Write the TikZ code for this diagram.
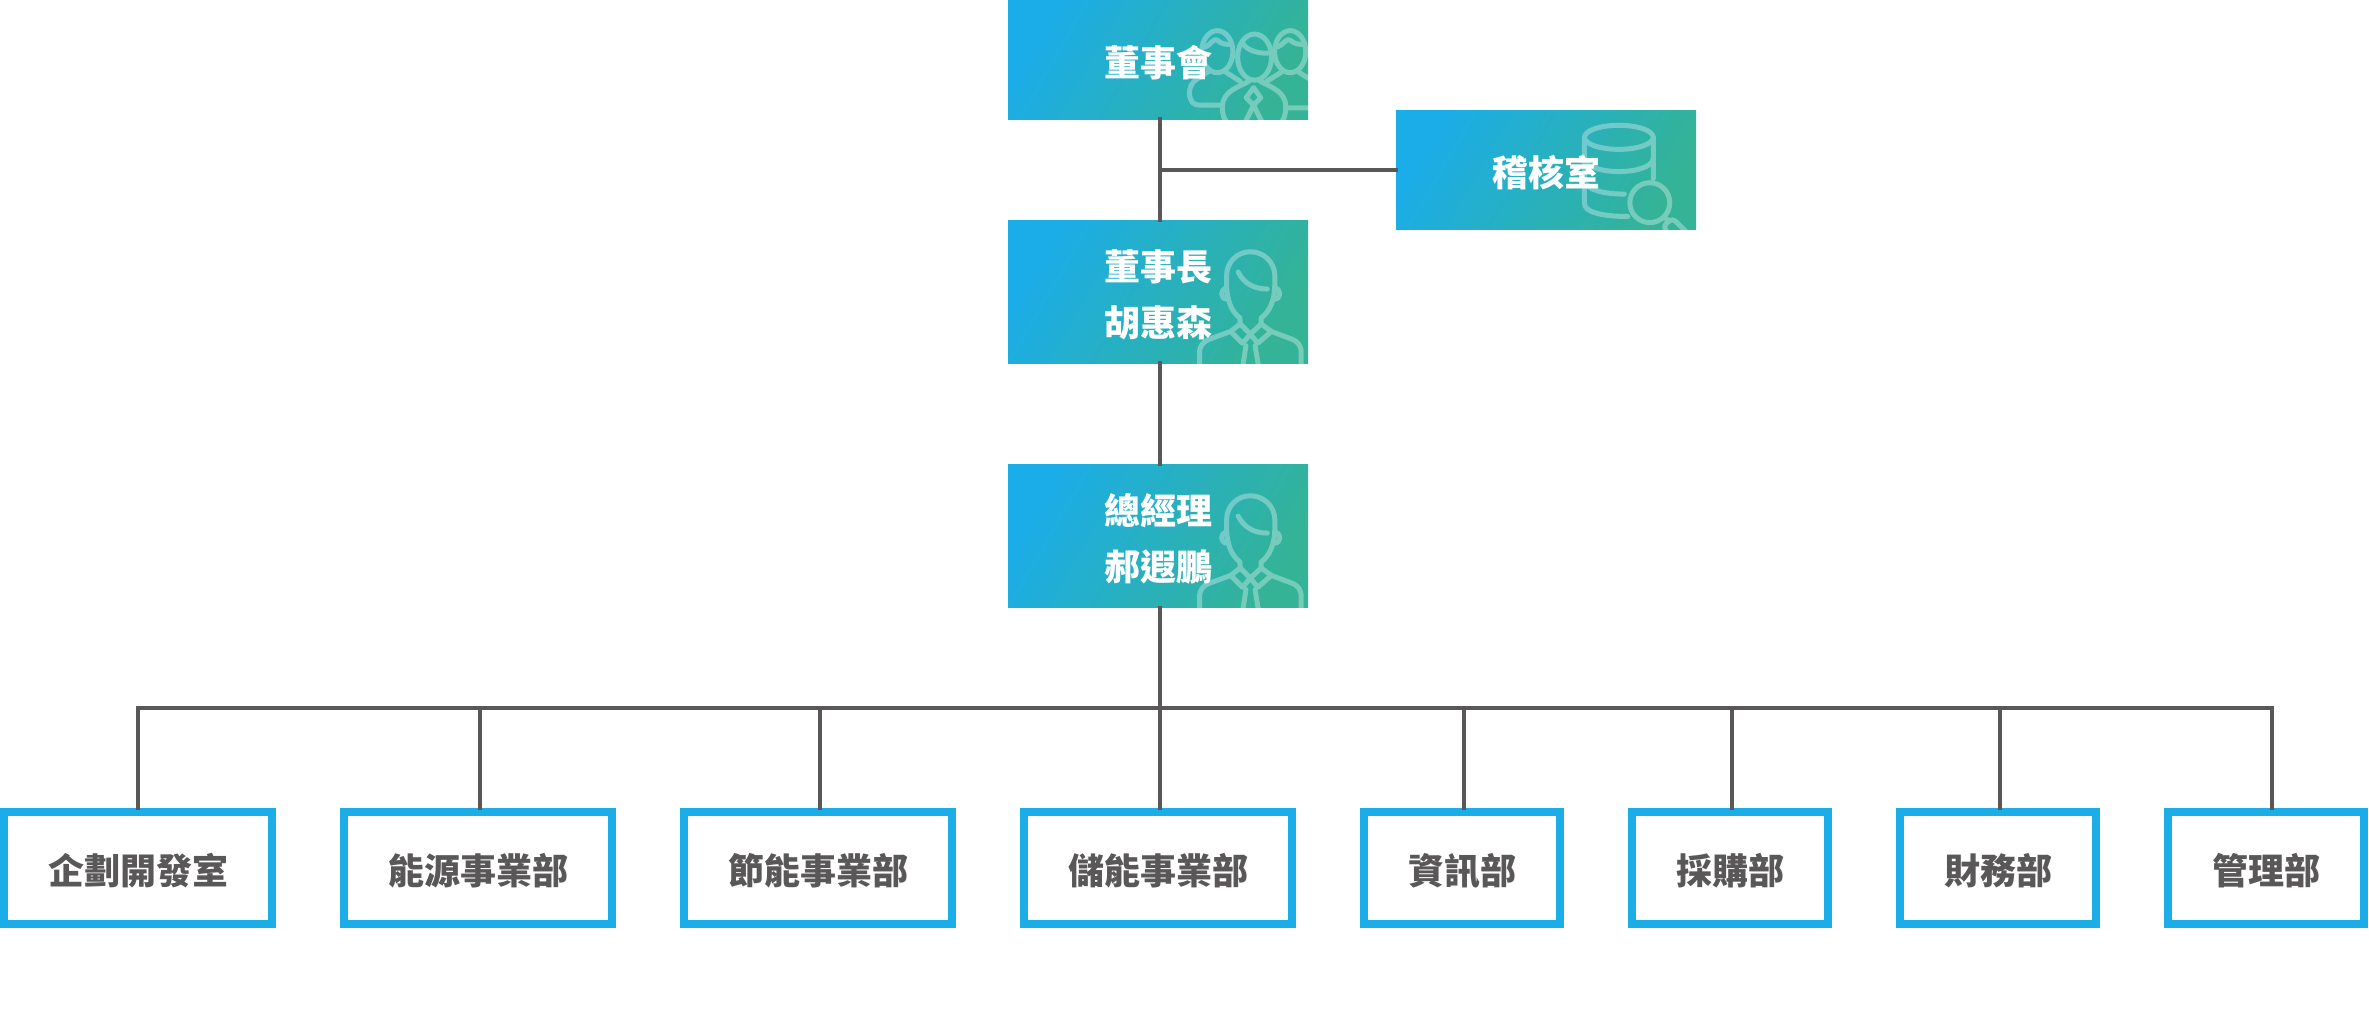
\documentclass[tikz,border=0pt]{standalone}
\usepackage{fontspec}
\setmainfont{Noto Sans CJK TC}
\definecolor{boxblue}{HTML}{1BADE8}
\definecolor{boxgreen}{HTML}{34B396}
\definecolor{linegray}{HTML}{595757}
\tikzset{
  textdrop/.style={execute at begin node={\rule{0pt}{#1}}},
  gradbox/.style={inner sep=0,outer sep=0,minimum width=150pt,minimum height=#1,text=white,align=center,
    left color=boxblue,right color=boxgreen,shading angle=60,font=\fontsize{18}{28}\selectfont\bfseries},
  gradbox/.default=71.5pt,
  deptbox/.style={draw=boxblue,line width=4pt,inner sep=0,minimum width=#1,minimum height=56pt,text=linegray,textdrop=18.5pt,
    font=\fontsize{18}{28}\selectfont\bfseries},
  wire/.style={draw=linegray,line width=2pt,line cap=rect},
  iconline/.style={draw=white,line width=2.5pt,line cap=round,line join=round},
  person/.pic={
    \clip (0,0) rectangle (300,144);
    \begin{scope}[shift={(182,16)},scale=.339,transparency group,opacity=.33]
    \begin{scope}[iconline]
      \draw (108,150) -- (108,115) .. controls (108,76) and (139,45) .. (178,45) .. controls (217,45) and (250,76) .. (250,115) -- (250,150);
      \draw (142,105) .. controls (160,140) and (190,155) .. (228,155);
      \draw (108,152) .. controls (88,155) and (88,185) .. (110,185);
      \draw (250,152) .. controls (270,155) and (270,185) .. (248,185);
      \draw (108,150) .. controls (110,185) and (120,220) .. (147,240) -- (148,258);
      \draw (250,150) .. controls (248,185) and (238,220) .. (210,240) -- (210,258);
      \draw (148,258) -- (178,288) -- (210,258);
      \draw (148,258) -- (120,280) -- (155,315) -- (178,288) -- (200,315) -- (240,280) -- (210,258);
      \draw (120,280) -- (60,302) .. controls (38,310) and (28,322) .. (28,345) -- (28,420);
      \draw (240,280) -- (298,302) .. controls (320,310) and (328,322) .. (328,345) -- (328,420);
      \draw (165,322) -- (150,420);
      \draw (192,322) -- (208,420);
    \end{scope}
    \end{scope}
  },
  trio/.pic={
    \clip (0,0) rectangle (300,120);
    \begin{scope}[shift={(172,20)},scale=.339,transparency group,opacity=.33]
    \begin{scope}[iconline]
      \draw (220,108) ellipse [x radius=50,y radius=68];
      \draw (185,68) .. controls (200,90) and (235,100) .. (268,95);
      \draw (205,178) .. controls (180,195) and (125,205) .. (125,255) .. controls (125,280) and (130,295) .. (145,305);
      \draw (235,178) .. controls (260,195) and (312,205) .. (312,255) .. controls (312,280) and (305,295) .. (295,305);
      \draw (217,198) -- (238,228) -- (217,250) -- (195,228) -- cycle;
      \draw (217,250) -- (192,300);
      \draw (217,250) -- (242,300);
      \draw (110,92) ellipse [x radius=46,y radius=62];
      \draw (75,78) .. controls (90,72) and (100,50) .. (110,58) .. controls (120,68) and (135,72) .. (150,70);
      \draw (85,150) .. controls (55,170) and (28,180) .. (28,212) .. controls (28,240) and (40,250) .. (60,250) -- (122,250);
      \draw (135,152) -- (178,180);
      \draw (325,92) ellipse [x radius=46,y radius=62];
      \draw (288,78) .. controls (305,72) and (315,50) .. (325,58) .. controls (335,68) and (350,72) .. (368,70);
      \draw (300,152) -- (255,180);
      \draw (350,152) .. controls (375,170) and (400,180) .. (410,195);
      \draw (312,258) -- (400,258);
    \end{scope}
    \end{scope}
  },
  dbsearch/.pic={
    \clip (0,0) rectangle (300,120);
    \begin{scope}[shift={(174,0)},scale=.344,transparency group,opacity=.33]
    \begin{scope}[iconline]
      \draw (142,78) ellipse [x radius=100,y radius=35];
      \draw (242,78) -- (242,198);
      \draw (42,78) -- (42,270) .. controls (42,295) and (90,308) .. (168,308);
      \draw (42,140) .. controls (50,190) and (235,190) .. (242,140);
      \draw (42,205) .. controls (50,232) and (100,243) .. (158,243);
      \draw (232,268) circle [radius=58];
      \draw (275,310) -- (287,322);
      \draw (287,322) .. controls (275,330) and (272,340) .. (280,350) -- (325,395);
      \draw (287,322) .. controls (295,315) and (303,318) .. (310,325) -- (365,380);
    \end{scope}
    \end{scope}
  },
}
\begin{document}
\begin{tikzpicture}[x=.5pt,y=-.5pt]
  \useasboundingbox[fill=white] (0,0) rectangle (2369,1020);
  \coordinate (trunk) at (1160,708);
  \path node[gradbox=59.5pt,textdrop=18.5pt] (board) at (1158,60) {董事會}
     node[gradbox=59.5pt,textdrop=18.5pt] (audit) at (1546,170) {稽核室}
     node[gradbox,textdrop=46.5pt] (chair) at (1158,292) {董事長\\胡惠森}
     node[gradbox,textdrop=46.5pt] (gm) at (1158,536) {總經理\\郝遐鵬};
  \path node[deptbox=134pt] (plan) at (138,868) {企劃開發室}
     node[deptbox=134pt] (energy) at (478,868) {能源事業部}
     node[deptbox=134pt] (saving) at (818,868) {節能事業部}
     node[deptbox=134pt] (storage) at (1158,868) {儲能事業部}
     node[deptbox=98pt] (info) at (1462,868) {資訊部}
     node[deptbox=98pt] (purchase) at (1730,868) {採購部}
     node[deptbox=98pt] (finance) at (1998,868) {財務部}
     node[deptbox=98pt] (admin) at (2266,868) {管理部};
  \pic at (board.north west) {trio};
  \pic at (audit.north west) {dbsearch};
  \pic at (chair.north west) {person};
  \pic at (gm.north west) {person};
  \draw[wire] (board.south -| trunk) -- (chair.north -| trunk);
  \draw[wire] (audit.west) -- (audit.west -| trunk);
  \draw[wire] (chair.south -| trunk) -- (gm.north -| trunk);
  \draw[wire] (gm.south -| trunk) -- (trunk);
  \draw[wire] (plan.north |- trunk) -- ([xshift=3pt]admin.north |- trunk);
  \foreach \dept/\off in {plan/0,energy/1,saving/1,storage/1,info/1,purchase/1,finance/1,admin/3}
     \draw[wire] ([xshift=\off pt]\dept.north) -- ([xshift=\off pt]\dept.north |- trunk);
\end{tikzpicture}
\end{document}
